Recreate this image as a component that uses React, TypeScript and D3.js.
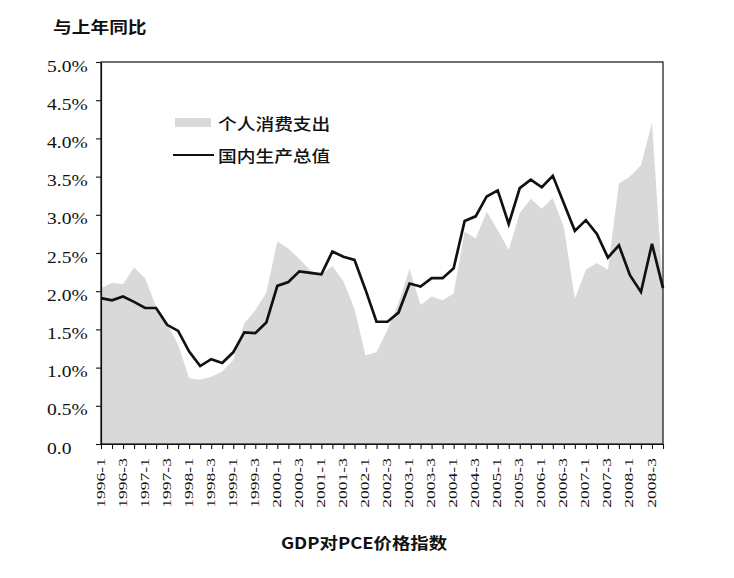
import { useEffect, useRef } from 'react'
import * as d3 from 'd3'

// quarterly categories, 1996-1 .. 2008-4
const quarters = [
  '1996-1', '1996-2', '1996-3', '1996-4', '1997-1', '1997-2', '1997-3', '1997-4',
  '1998-1', '1998-2', '1998-3', '1998-4', '1999-1', '1999-2', '1999-3', '1999-4',
  '2000-1', '2000-2', '2000-3', '2000-4', '2001-1', '2001-2', '2001-3', '2001-4',
  '2002-1', '2002-2', '2002-3', '2002-4', '2003-1', '2003-2', '2003-3', '2003-4',
  '2004-1', '2004-2', '2004-3', '2004-4', '2005-1', '2005-2', '2005-3', '2005-4',
  '2006-1', '2006-2', '2006-3', '2006-4', '2007-1', '2007-2', '2007-3', '2007-4',
  '2008-1', '2008-2', '2008-3', '2008-4',
]

// 个人消费支出 (area), % yoy
const pce = [
  2.04, 2.11, 2.09, 2.31, 2.17, 1.80, 1.58, 1.30,
  0.86, 0.84, 0.88, 0.95, 1.10, 1.58, 1.75, 1.98,
  2.65, 2.56, 2.42, 2.27, 2.22, 2.33, 2.13, 1.77,
  1.16, 1.20, 1.50, 1.85, 2.29, 1.82, 1.93, 1.88,
  1.97, 2.78, 2.69, 3.04, 2.80, 2.54, 3.02, 3.21,
  3.08, 3.22, 2.84, 1.90, 2.28, 2.37, 2.28, 3.41,
  3.50, 3.65, 4.20, 2.02,
]

// 国内生产总值 (line), % yoy
const gdp = [
  1.91, 1.88, 1.93, 1.86, 1.78, 1.78, 1.56, 1.48,
  1.21, 1.02, 1.11, 1.06, 1.20, 1.46, 1.45, 1.59,
  2.07, 2.12, 2.26, 2.24, 2.22, 2.52, 2.45, 2.41,
  2.02, 1.60, 1.60, 1.72, 2.10, 2.06, 2.17, 2.17,
  2.30, 2.92, 2.98, 3.24, 3.32, 2.88, 3.35, 3.46,
  3.36, 3.51, 3.15, 2.79, 2.93, 2.75, 2.44, 2.60,
  2.21, 1.99, 2.62, 2.04,
]

const yTicks = [0, 0.5, 1, 1.5, 2, 2.5, 3, 3.5, 4, 4.5, 5]

const cjk = '"Noto Sans CJK SC", sans-serif'
const serif = '"Times New Roman", "Liberation Serif", "DejaVu Serif", serif'

export default function App() {
  const svgRef = useRef<SVGSVGElement>(null)

  useEffect(() => {
    if (!svgRef.current) return
    const svg = d3.select(svgRef.current)
    svg.selectAll('*').remove()

    const left = 101, right = 663, top = 62, bottom = 444

    const x = d3.scalePoint<string>().domain(quarters).range([left, right])
    const y = d3.scaleLinear().domain([0, 5]).range([bottom, top])

    const rows = quarters.map((q, i) => ({ q, pce: pce[i], gdp: gdp[i] }))

    // PCE area
    const area = d3.area<typeof rows[0]>()
      .x(d => x(d.q)!)
      .y0(y(0))
      .y1(d => y(d.pce))

    svg.append('path')
      .datum(rows)
      .attr('fill', '#d9d9d9')
      .attr('d', area)

    // GDP line
    const line = d3.line<typeof rows[0]>()
      .x(d => x(d.q)!)
      .y(d => y(d.gdp))

    svg.append('path')
      .datum(rows)
      .attr('fill', 'none')
      .attr('stroke', '#111')
      .attr('stroke-width', 2.7)
      .attr('stroke-linejoin', 'miter')
      .attr('d', line)

    // frame (top + right)
    svg.append('rect')
      .attr('x', left).attr('y', top)
      .attr('width', right - left).attr('height', bottom - top)
      .attr('fill', 'none')
      .attr('stroke', '#111')
      .attr('stroke-width', 1.2)

    // y axis
    const yAxis = svg.append('g')
      .attr('transform', `translate(${left},0)`)
      .call(d3.axisLeft(y).tickValues(yTicks).tickSize(5).tickSizeOuter(0)
        .tickFormat(d => (+d === 0 ? '0.0' : (+d).toFixed(1) + '%')))

    yAxis.selectAll('text')
      .attr('text-anchor', 'start')
      .attr('x', -54 / 1.22)
      .attr('dy', '0.38em')
      .attr('transform', 'translate(0,3) scale(1.22,1)')
      .style('font-family', serif)
      .style('font-size', '16px')
      .style('fill', '#111')

    // x axis
    const xAxis = svg.append('g')
      .attr('transform', `translate(0,${bottom})`)
      .call(d3.axisBottom(x).tickSize(5).tickSizeOuter(0).tickFormat(() => ''))

    svg.selectAll('.domain').attr('stroke', '#111').attr('stroke-width', 1.2)
    svg.selectAll('.tick line').attr('stroke', '#111').attr('stroke-width', 1.1)
    xAxis.selectAll('text').remove()

    svg.append('g')
      .selectAll('text')
      .data(quarters.filter((_, i) => i % 2 === 0))
      .enter().append('text')
      .attr('transform', d => `translate(${x(d)! - 1},458) rotate(-90) scale(1.35,1)`)
      .attr('text-anchor', 'end')
      .attr('dy', '0.35em')
      .style('font-family', serif)
      .style('font-size', '13px')
      .style('fill', '#111')
      .text(d => d)

    // title & axis caption
    svg.append('text')
      .attr('transform', 'translate(53,33) scale(1.17,1)')
      .style('font-family', cjk)
      .style('font-size', '16px')
      .style('font-weight', 700)
      .style('fill', '#111')
      .text('与上年同比')

    svg.append('text')
      .attr('transform', 'translate(364,549) scale(1.15,1)')
      .attr('text-anchor', 'middle')
      .style('font-family', cjk)
      .style('font-size', '16px')
      .style('font-weight', 700)
      .style('fill', '#111')
      .text('GDP对PCE价格指数')

    // legend
    const legend = svg.append('g')
    legend.append('rect')
      .attr('x', 175).attr('y', 118)
      .attr('width', 36).attr('height', 9)
      .attr('fill', '#d9d9d9')
    legend.append('line')
      .attr('x1', 173).attr('x2', 214)
      .attr('y1', 155).attr('y2', 155)
      .attr('stroke', '#111')
      .attr('stroke-width', 2.2)

    const legendItems = [
      { label: '个人消费支出', cy: 124 },
      { label: '国内生产总值', cy: 156 },
    ]
    legend.selectAll('text.lab')
      .data(legendItems)
      .enter().append('text')
      .attr('class', 'lab')
      .attr('transform', d => `translate(218,${d.cy}) scale(1.17,1)`)
      .attr('dy', '0.36em')
      .style('font-family', cjk)
      .style('font-size', '16px')
      .style('font-weight', 500)
      .style('fill', '#111')
      .text(d => d.label)
  }, [])

  return (
    <div style={{ position: 'absolute', left: 0, top: 0, width: 734, height: 578, background: '#fff' }}>
      <svg ref={svgRef} width={734} height={578}></svg>
    </div>
  )
}
